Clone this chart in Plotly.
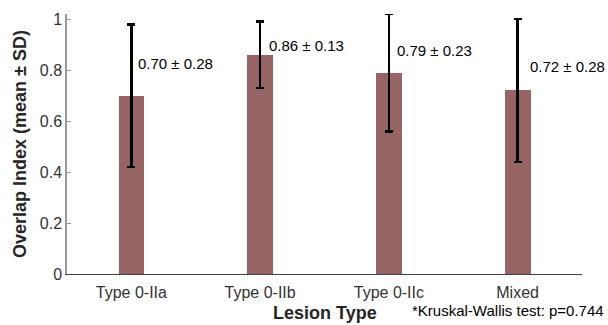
import plotly.graph_objects as go

categories = ["Type 0-IIa", "Type 0-IIb", "Type 0-IIc", "Mixed"]
means = [0.70, 0.86, 0.79, 0.72]
sds = [0.28, 0.13, 0.23, 0.28]
y_ticks = [0, 0.2, 0.4, 0.6, 0.8, 1]
y_tick_labels = ["0", "0.2", "0.4", "0.6", "0.8", "1"]

# label placement (styling, not data)
label_y = [0.827, 0.898, 0.875, 0.814]
label_xshift = [5, 7, 6, 10]

FONT = "Arial, Liberation Sans, sans-serif"

fig = go.Figure()
fig.add_trace(go.Bar(
    x=categories, y=means, width=0.2,
    marker=dict(color="#966464", line=dict(width=0)),
    error_y=dict(type="data", array=sds, visible=True,
                 color="black", thickness=2.6, width=4),
    showlegend=False,
))

for c, m, s, ly, xs in zip(categories, means, sds, label_y, label_xshift):
    fig.add_annotation(x=c, y=ly, xref="x", yref="y",
                       text=f"{m:.2f} ± {s:.2f}", showarrow=False,
                       xanchor="left", yanchor="middle", xshift=xs,
                       font=dict(family=FONT, size=15, color="black"))

# plot area: 515 x 260 px
fig.add_annotation(xref="paper", yref="paper", x=0.5, y=-(313 - 274) / 260,
                   xanchor="center", yanchor="middle",
                   text="<b>Lesion Type</b>", showarrow=False,
                   font=dict(family=FONT, size=18, color="#262626"))

fig.add_annotation(xref="paper", yref="paper",
                   x=(606 - 67) / 515, y=-(310 - 274) / 260,
                   xanchor="right", yanchor="middle",
                   text="*Kruskal-Wallis test: p=0.744", showarrow=False,
                   font=dict(family=FONT, size=15, color="black"))

fig.update_layout(
    width=608, height=325,
    margin=dict(l=67, r=26, t=14, b=51, pad=0),
    plot_bgcolor="white", paper_bgcolor="white",
    font=dict(family=FONT, size=16, color="#333333"),
    bargap=0,
)
fig.update_xaxes(
    range=[-0.5, 3.5], showline=True, linecolor="#404040", linewidth=1,
    ticks="outside", ticklen=4, tickcolor="rgba(0,0,0,0)",
    showgrid=False, zeroline=False, automargin=False,
    tickfont=dict(family=FONT, size=16, color="#333333"),
)
fig.update_yaxes(
    range=[0, 1.02], showline=True, linecolor="#999999", linewidth=1.5,
    ticks="inside", ticklen=4, tickcolor="#999999", tickwidth=1,
    tickvals=y_ticks, ticktext=y_tick_labels,
    showgrid=False, zeroline=False, automargin=False,
    tickfont=dict(family=FONT, size=16, color="#333333"),
    title=dict(text="<b>Overlap Index (mean ± SD)</b>",
               font=dict(family=FONT, size=18, color="#262626"), standoff=8),
)

fig.write_html(
    "out.html",
    config={"displayModeBar": False},
    post_script="document.body.style.margin='0';document.body.style.overflow='hidden';",
)
